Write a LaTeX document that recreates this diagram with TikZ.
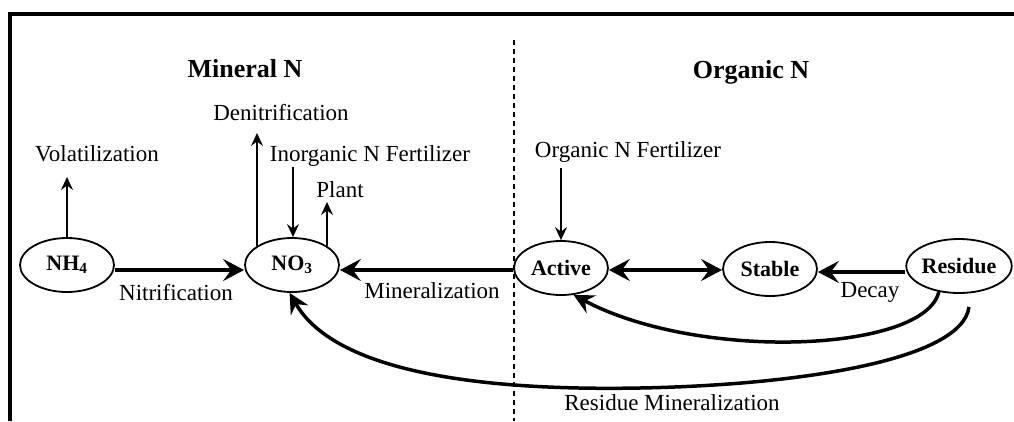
\documentclass[tikz,border=0pt]{standalone}
\usepackage{fontspec}
\setmainfont{Liberation Serif}
\usetikzlibrary{arrows.meta,shapes.geometric}
\begin{document}
\begin{tikzpicture}[x=1pt,y=-1pt,
  state/.style={draw, line width=1.8pt, ellipse, minimum width=94pt, minimum height=54pt, inner sep=0pt, font=\fontsize{22}{24}\selectfont\bfseries},
  lbl/.style={font=\fontsize{23}{26}\selectfont, inner sep=0pt, anchor=base},
  heading/.style={font=\fontsize{26}{30}\selectfont\bfseries, inner sep=0pt, anchor=base},
  thinarrow/.style={line width=1.5pt, -{Stealth[length=13pt,width=12pt,inset=4.5pt]}},
  thickarrow/.style={line width=4.5pt, -{Stealth[length=21pt,width=22pt,inset=8pt]}},
  twoarrow/.style={line width=4.5pt, {Stealth[length=21pt,width=22pt,inset=8pt]}-{Stealth[length=21pt,width=22pt,inset=8pt]}},
  curvearrow/.style={line width=3.5pt, -{Stealth[length=20pt,width=20pt,inset=7pt]}},
  divider/.style={line width=1.8pt, dash pattern=on 5pt off 4pt},
  frameline/.style={line width=4pt, line join=miter},
]
\useasboundingbox[fill=white] (0,0) rectangle (1014,421);

% frame and divider
\draw[frameline] (10,421) -- (10,13.5) -- (1014,13.5);
\draw[divider] (514,40) -- (514,421);

% headings
\node[heading] (minh) at (245,77) {Mineral N};
\node[heading] (orgh) at (751,78) {Organic N};

% pools
\node[state] (nh4) at (67,265) {NH\textsubscript{4}};
\node[state] (no3) at (292,265) {NO\textsubscript{3}};
\node[state] (act) at (561,268) {Active};
\node[state] (stab) at (770,269) {Stable};
\node[state] (res) at (959,266) {Residue};

% labels
\node[lbl] (deni) at (281,120) {Denitrification};
\node[lbl] (vol) at (97,161) {Volatilization};
\node[lbl] (ino) at (370,161) {Inorganic N Fertilizer};
\node[lbl] (plant) at (340,197) {Plant};
\node[lbl] (orgf) at (628,157) {Organic N Fertilizer};
\node[lbl] (nitr) at (176,300) {Nitrification};
\node[lbl] (mine) at (432,298) {Mineralization};
\node[lbl] (decay) at (870,297) {Decay};
\node[lbl] (resmin) at (672,410) {Residue Mineralization};

% free ends
\coordinate (voltip) at (67,177);
\coordinate (denitip) at (257,133);
\coordinate (inotail) at (293,167);
\coordinate (planttip) at (327,202);
\coordinate (orgtail) at (561,168);
\coordinate (r2) at (969,307);

% thin arrows
\draw[thinarrow] (nh4.north) -- (voltip);
\draw[thinarrow] (denitip |- no3.153) -- (denitip);
\draw[thinarrow] (inotail) -- (inotail |- no3.north);
\draw[thinarrow] (planttip |- no3.27) -- (planttip);
\draw[thinarrow] (orgtail) -- (act.north);

% thick arrows
\draw[thickarrow] ([yshift=-5pt]nh4.east) -- ([yshift=-5pt]no3.west);
\draw[thickarrow] ([yshift=-2pt]act.west) -- ([yshift=-5pt]no3.east);
\draw[twoarrow] ([yshift=-2pt]act.east) -- ([yshift=-1pt]stab.west);
\draw[thickarrow] ([yshift=-6pt]res.west) -- ([yshift=-3pt]stab.east);

% curves
\draw[curvearrow] (res.-128) .. controls (925,352) and (700,362) .. (act.-65);
\draw[curvearrow] (r2) .. controls (962,360) and (800,385) .. (640,388) .. controls (480,391) and (335,372) .. (no3.-95);
\end{tikzpicture}
\end{document}
